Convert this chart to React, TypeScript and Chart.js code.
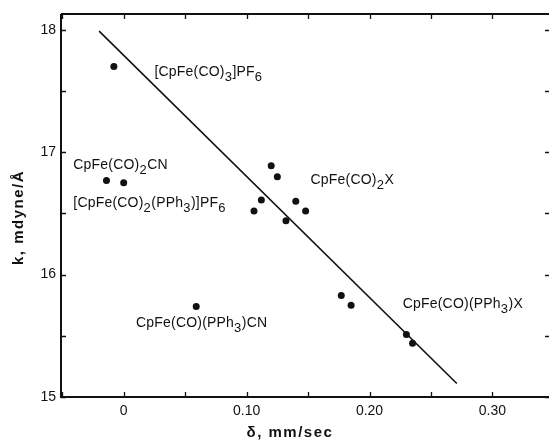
import React, { useEffect, useRef } from "react";
import { Chart, registerables } from "chart.js";

Chart.register(...registerables);

// Data
const deltaValues = [-0.008, -0.014, 0.0, 0.106, 0.112, 0.12, 0.125, 0.132, 0.14, 0.148, 0.177, 0.185, 0.23, 0.235, 0.059];
const kValues = [17.7, 16.77, 16.75, 16.52, 16.61, 16.89, 16.8, 16.44, 16.6, 16.52, 15.83, 15.75, 15.51, 15.44, 15.74];
const fitDelta = [-0.02, 0.271];
const fitK = [17.99, 15.11];

const xMajorTicks = [0, 0.1, 0.2, 0.3];
const xTickLabels = ["0", "0.10", "0.20", "0.30"];
const xMinorTicks = [-0.05, 0.05, 0.15, 0.25];
const yMajorTicks = [15, 16, 17, 18];
const yTickLabels = ["15", "16", "17", "18"];
const yMinorTicks = [15.5, 16.5, 17.5];

// Compound labels ("_x" = subscript x), anchored at left/baseline in data units
const labelTexts = [
  "[CpFe(CO)_3]PF_6",
  "CpFe(CO)_2CN",
  "[CpFe(CO)_2(PPh_3)]PF_6",
  "CpFe(CO)_2X",
  "CpFe(CO)(PPh_3)CN",
  "CpFe(CO)(PPh_3)X",
];
const labelDelta = [0.025, -0.041, -0.041, 0.152, 0.01, 0.227];
const labelK = [17.62, 16.86, 16.55, 16.74, 15.57, 15.73];

const X_MIN = -0.051;
const X_MAX = 0.346;
const Y_MIN = 15;
const Y_MAX = 18.13;

const FONT = '"Liberation Sans", Arial, sans-serif';
const INK = "#111";

function drawRich(ctx: CanvasRenderingContext2D, text: string, x: number, y: number, size: number) {
  let cx = x;
  let i = 0;
  while (i < text.length) {
    const ch = text[i];
    if (ch === "_" && i + 1 < text.length) {
      ctx.font = `${size - 1}px ${FONT}`;
      const s = text[i + 1];
      ctx.fillText(s, cx, y + 5);
      cx += ctx.measureText(s).width + 0.5;
      i += 2;
    } else {
      ctx.font = `${size}px ${FONT}`;
      ctx.fillText(ch, cx, y);
      cx += ctx.measureText(ch).width + 0.2;
      i += 1;
    }
  }
}

const framePlugin = {
  id: "frame",
  afterDraw(chart: any) {
    const ctx = chart.ctx as CanvasRenderingContext2D;
    const { left, right, top, bottom } = chart.chartArea;
    const xs = chart.scales.x;
    const ys = chart.scales.y;
    ctx.save();
    ctx.strokeStyle = INK;
    ctx.fillStyle = INK;
    ctx.lineWidth = 2;
    // axes lines: left, bottom, top
    ctx.beginPath();
    ctx.moveTo(left, top);
    ctx.lineTo(left, bottom);
    ctx.lineTo(right, bottom);
    ctx.moveTo(left, top);
    ctx.lineTo(right, top);
    ctx.stroke();

    ctx.lineWidth = 1.3;
    ctx.beginPath();
    const allX = [...xMajorTicks, ...xMinorTicks];
    allX.forEach((v) => {
      const px = Math.round(xs.getPixelForValue(v)) + 0.5;
      ctx.moveTo(px, bottom);
      ctx.lineTo(px, bottom - 5);
      ctx.moveTo(px, top);
      ctx.lineTo(px, top + 5);
    });
    const allY = [...yMajorTicks, ...yMinorTicks];
    allY.forEach((v) => {
      const py = Math.round(ys.getPixelForValue(v)) + 0.5;
      ctx.moveTo(left, py);
      ctx.lineTo(left + 5, py);
      ctx.moveTo(right, py);
      ctx.lineTo(right - 4, py);
    });
    ctx.stroke();

    // tick labels
    ctx.font = `14px ${FONT}`;
    ctx.textAlign = "center";
    ctx.textBaseline = "top";
    xMajorTicks.forEach((v, i) => {
      ctx.fillText(xTickLabels[i], xs.getPixelForValue(v), bottom + 7);
    });
    ctx.textAlign = "right";
    ctx.textBaseline = "middle";
    yMajorTicks.forEach((v, i) => {
      ctx.fillText(yTickLabels[i], left - 5, ys.getPixelForValue(v));
    });

    // axis titles
    ctx.font = `bold 15px ${FONT}`;
    (ctx as any).letterSpacing = "1.5px";
    ctx.textAlign = "center";
    ctx.textBaseline = "middle";
    ctx.fillText("δ, mm/sec", 290, bottom + 36);
    ctx.save();
    ctx.translate(19, (top + bottom) / 2 + 12);
    ctx.rotate(-Math.PI / 2);
    ctx.fillText("k, mdyne/Å", 0, 0);
    ctx.restore();
    (ctx as any).letterSpacing = "0px";

    // compound labels
    ctx.textAlign = "left";
    ctx.textBaseline = "alphabetic";
    labelTexts.forEach((t, i) => {
      drawRich(ctx, t, xs.getPixelForValue(labelDelta[i]), ys.getPixelForValue(labelK[i]), 14);
    });
    ctx.restore();
  },
};

export default function App() {
  const ref = useRef<HTMLCanvasElement>(null);
  useEffect(() => {
    if (!ref.current) return;
    const chart = new Chart(ref.current, {
      type: "scatter",
      data: {
        datasets: [
          {
            type: "line",
            data: fitDelta.map((x, i) => ({ x, y: fitK[i] })),
            borderColor: INK,
            borderWidth: 1.6,
            pointRadius: 0,
            fill: false,
          },
          {
            type: "scatter",
            data: deltaValues.map((x, i) => ({ x, y: kValues[i] })),
            backgroundColor: INK,
            borderColor: INK,
            borderWidth: 0,
            pointRadius: 3.5,
          },
        ],
      },
      options: {
        responsive: false,
        animation: false,
        layout: { padding: { left: 61, right: 0, top: 14, bottom: 45 } },
        plugins: { legend: { display: false }, tooltip: { enabled: false } },
        scales: {
          x: { type: "linear", min: X_MIN, max: X_MAX, display: false },
          y: { type: "linear", min: Y_MIN, max: Y_MAX, display: false },
        },
      },
      plugins: [framePlugin],
    } as any);
    return () => chart.destroy();
  }, []);
  return (
    <div style={{ position: "fixed", left: 0, top: 0, width: 553, height: 442, background: "#fff" }}>
      <canvas ref={ref} width={553} height={442} />
    </div>
  );
}
